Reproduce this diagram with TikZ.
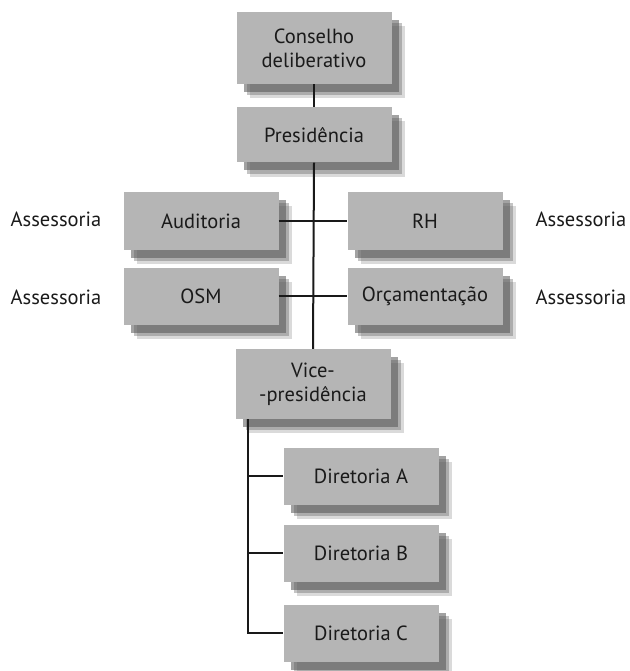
\documentclass[tikz,border=0pt]{standalone}
\usepackage{fontspec}
\setmainfont{PT Sans}
\usetikzlibrary{shadows}
\definecolor{boxgray}{HTML}{B5B5B5}
\definecolor{shadowgray}{HTML}{555555}
\definecolor{inkgray}{HTML}{1A1A1A}
\begin{document}
\begin{tikzpicture}[x=1pt,y=-1pt,
  orgbox/.style={draw=none, fill=boxgray, minimum width=155pt, minimum height=#1,
    align=center, inner sep=2pt, font=\fontsize{20.5}{24}\selectfont, text=inkgray,
    general shadow={shadow xshift=13pt, shadow yshift=-14pt, fill=shadowgray, opacity=0.22},
    general shadow={shadow xshift=10pt, shadow yshift=-11pt, fill=shadowgray, opacity=0.35},
    general shadow={shadow xshift=7pt, shadow yshift=-8pt, fill=shadowgray, opacity=0.55}},
  orgbox/.default=57pt,
  sidelabel/.style={font=\fontsize{20.5}{24}\selectfont, text=inkgray},
  link/.style={draw=black!90, line width=2pt}]
\useasboundingbox (0,0) rectangle (629,671);
\node[orgbox=72pt] (cons) at (314,48) {Conselho\\deliberativo};
\node[orgbox=55pt] (pres) at (314,135) {Presidência};
\node[orgbox=58pt] (aud) at (201,221) {Auditoria};
\node[orgbox=58pt] (rh) at (425,221) {RH};
\node[orgbox] (osm) at (201,296) {OSM};
\node[orgbox] (orc) at (425,296) {Orçamentação};
\node[orgbox=70pt] (vice) at (313,384) {Vice-\\-presidência};
\node[orgbox] (da) at (361,476) {Diretoria A};
\node[orgbox] (db) at (361,553) {Diretoria B};
\node[orgbox] (dc) at (361,633) {Diretoria C};
\node[sidelabel] (as1) at (56,219) {Assessoria};
\node[sidelabel] (as2) at (56,297) {Assessoria};
\node[sidelabel] (as3) at (581,219) {Assessoria};
\node[sidelabel] (as4) at (581,297) {Assessoria};
\draw[link] (cons.south) -- (pres.north);
\draw[link] (pres.south) -- (vice.north);
\draw[link] (aud.east) -- (rh.west);
\draw[link] (osm.east) -- (orc.west);
\coordinate (vl) at ([xshift=13pt]vice.south west);
\draw[link] (vl) |- (dc.west);
\draw[link] (vl |- da.west) -- (da.west);
\draw[link] (vl |- db.west) -- (db.west);
\end{tikzpicture}
\end{document}
